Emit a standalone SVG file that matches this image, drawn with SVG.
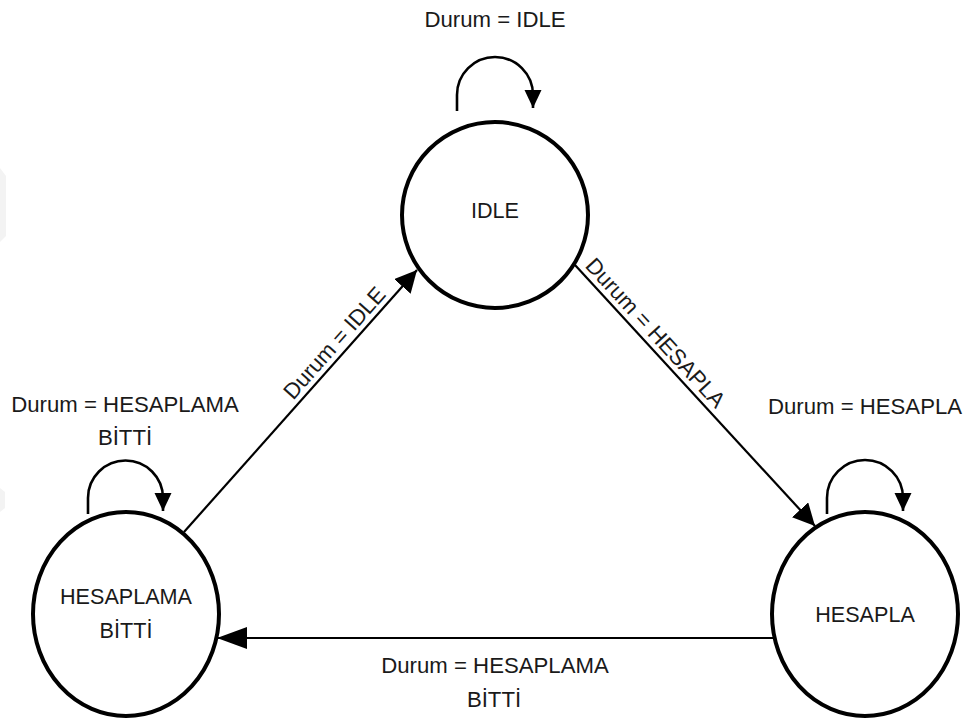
<svg xmlns="http://www.w3.org/2000/svg" width="970" height="719" viewBox="0 0 970 719">
  <style>
    .state { fill: #ffffff; stroke: #000000; stroke-width: 4; }
    .edge { fill: none; stroke: #000000; stroke-width: 2.2; }
    .loop { fill: none; stroke: #000000; stroke-width: 2.6; }
    text { font-family: "Liberation Sans", Arial, sans-serif; fill: #1a1a1a; }
    .lbl { font-size: 22.2px; }
    .name { font-size: 21.6px; text-anchor: middle; }
    .mid { text-anchor: middle; }
  </style>
  <defs>
    <marker id="arrow" markerUnits="userSpaceOnUse" markerWidth="24" markerHeight="24" refX="22" refY="11" orient="auto">
      <path d="M0,0 L22,11 L0,22 z" fill="#000"/>
    </marker>
    <marker id="arrowLong" markerUnits="userSpaceOnUse" markerWidth="32" markerHeight="24" refX="30" refY="11" orient="auto">
      <path d="M0,0 L30,11 L0,22 z" fill="#000"/>
    </marker>
    <marker id="arrowSmall" markerUnits="userSpaceOnUse" markerWidth="20" markerHeight="20" refX="18" refY="8.5" orient="auto">
      <path d="M0,0 L18,8.5 L0,17 z" fill="#000"/>
    </marker>
  </defs>

  <rect width="970" height="719" fill="#ffffff"/>

  <!-- faint marks along the left border -->
  <path d="M0,168 L6,176 L6,236 L0,242 z" fill="#f3f3f3"/>
  <path d="M0,488 L5,492 L5,508 L0,512 z" fill="#f3f3f3"/>

  <!-- transitions -->
  <g id="connectors">
    <!-- IDLE self loop -->
    <path class="loop" d="M457,111 V95 A38,38 0 0 1 533,95 V108" marker-end="url(#arrowSmall)"/>
    <!-- HESAPLAMA BİTTİ self loop -->
    <path class="loop" d="M88,514 V498 A37.5,37.5 0 0 1 163,498 V511" marker-end="url(#arrowSmall)"/>
    <!-- HESAPLA self loop -->
    <path class="loop" d="M827,514 V498 A38,38 0 0 1 903,498 V511" marker-end="url(#arrowSmall)"/>
    <!-- HESAPLAMA BİTTİ -> IDLE -->
    <path class="edge" d="M184,532 L417,270" marker-end="url(#arrow)"/>
    <!-- IDLE -> HESAPLA -->
    <path class="edge" d="M575,265 L815,526" marker-end="url(#arrow)"/>
    <!-- HESAPLA -> HESAPLAMA BİTTİ -->
    <path class="edge" d="M774,638 L217,638" marker-end="url(#arrowLong)"/>

    <text class="lbl mid" x="495" y="27">Durum = IDLE</text>
    <text class="lbl mid" x="125" y="412">Durum = HESAPLAMA</text>
    <text class="lbl mid" x="125" y="445">BİTTİ</text>
    <text class="lbl mid" x="865" y="414">Durum = HESAPLA</text>
    <text class="lbl mid" x="495" y="673">Durum = HESAPLAMA</text>
    <text class="lbl mid" x="494" y="707">BİTTİ</text>
    <text class="lbl mid" transform="translate(340,348) rotate(-48.4)">Durum = IDLE</text>
    <text class="lbl mid" transform="translate(650,338) rotate(47.4)">Durum = HESAPLA</text>
  </g>

  <g id="node-idle">
    <circle class="state" cx="495" cy="215" r="93"/>
    <text class="name" x="495" y="218">IDLE</text>
  </g>

  <g id="node-hesaplama-bitti">
    <ellipse class="state" cx="126" cy="614" rx="93" ry="102"/>
    <text class="name" x="126" y="604">HESAPLAMA</text>
    <text class="name" x="126" y="638">BİTTİ</text>
  </g>

  <g id="node-hesapla">
    <ellipse class="state" cx="865" cy="614" rx="93" ry="102"/>
    <text class="name" x="865" y="622">HESAPLA</text>
  </g>
</svg>
